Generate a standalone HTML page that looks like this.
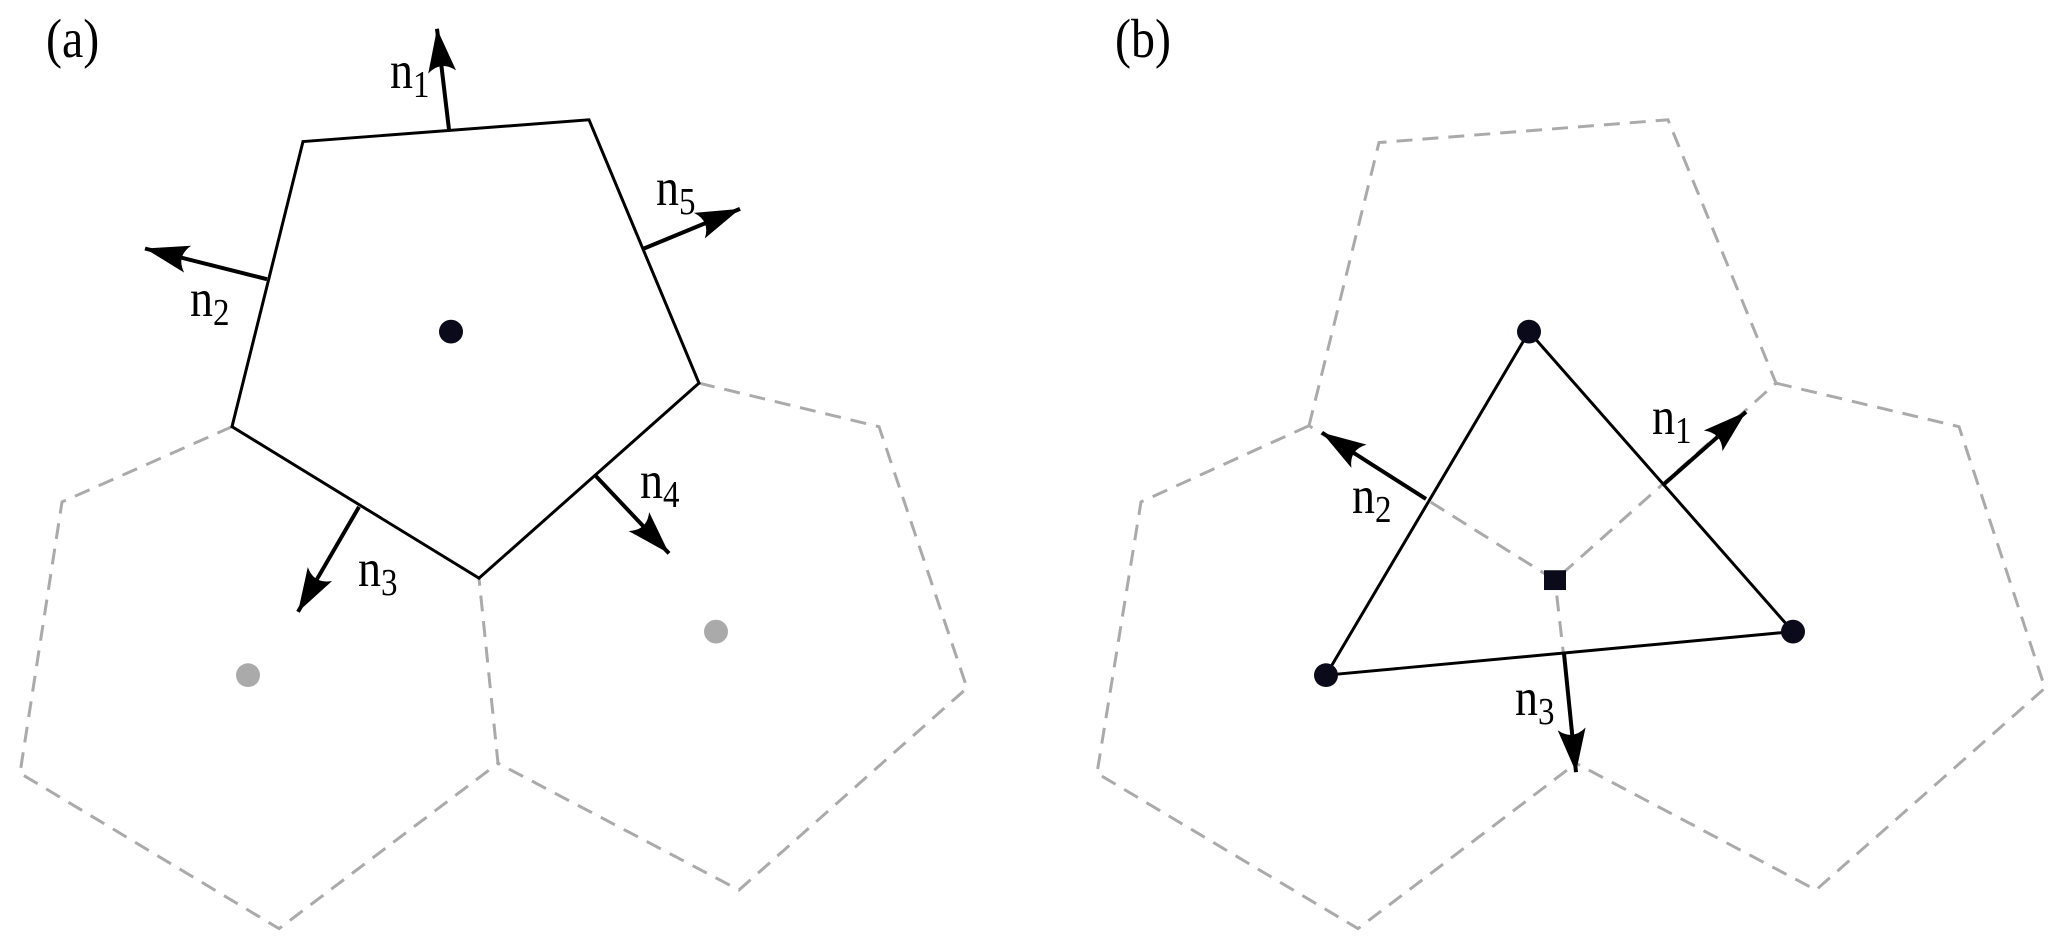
<!DOCTYPE html>
<html><head><meta charset="utf-8"><style>
html,body{margin:0;padding:0;background:#fff;overflow:hidden;}
svg{display:block;}
text{font-family:"Liberation Serif",serif;fill:#000;}
.lb{font-size:46px;}
.sb{font-size:33px;}
</style></head><body>
<svg width="2067" height="951" viewBox="0 0 2067 951" xmlns="http://www.w3.org/2000/svg">
<defs>
<marker id="ah" markerUnits="userSpaceOnUse" markerWidth="60" markerHeight="40" viewBox="-50 -20 60 40" refX="0" refY="0" orient="auto">
<path d="M0,0 L-44,-14 Q-32,0 -44,14 Z" fill="#000"/>
</marker>
</defs>
<g transform="scale(1,0.99)">
<g fill="none" stroke="#aaa" stroke-width="3" stroke-dasharray="16,10">
<polyline points="232,431 62,507 20,781 279,938 498,771 479,584"/>
<polyline points="699,387 879,431 967,695 739,899 498,771"/>
<polyline points="1309,430 1379,144 1668,121 1776,387 1555,586 1309,430"/>
<polyline points="1309,430 1141,507 1097,781 1358,938 1576,771 1555,586"/>
<polyline points="1776,387 1959,431 2045,695 1816,899 1576,771"/>
</g>
<polygon points="303,143 589,121 699,387 479,584 232,431" fill="none" stroke="#000" stroke-width="3"/>
<circle cx="451" cy="335" r="12" fill="#0a0a1a"/>
<circle cx="248" cy="682" r="12" fill="#aaa"/>
<circle cx="716" cy="638" r="12" fill="#aaa"/>
<g stroke="#000" stroke-width="4" marker-end="url(#ah)">
<line x1="449" y1="131" x2="437" y2="29"/>
<line x1="267" y1="282" x2="145" y2="251"/>
<line x1="644" y1="251" x2="740" y2="211"/>
<line x1="596" y1="481" x2="669" y2="559"/>
<line x1="359" y1="512" x2="298" y2="618"/>
<line x1="1664" y1="489" x2="1746" y2="416"/>
<line x1="1426" y1="504" x2="1322" y2="437"/>
<line x1="1564" y1="660" x2="1576" y2="780"/>
</g>
<polygon points="1529,335 1793,638 1326,682" fill="none" stroke="#000" stroke-width="3"/>
<circle cx="1529" cy="335" r="12" fill="#0a0a1a"/>
<circle cx="1793" cy="638" r="12" fill="#0a0a1a"/>
<circle cx="1326" cy="682" r="12" fill="#0a0a1a"/>
<rect x="1544" y="576" width="22" height="20" fill="#0a0a1a"/>
</g>
<text transform="translate(46,57) scale(1,1.15)" style="font-size:48px">(a)</text>
<text transform="translate(1115,57) scale(1,1.15)" style="font-size:48px">(b)</text>
<text class="lb" transform="translate(390,88) scale(1,1.15)">n<tspan class="sb" dy="8">1</tspan></text>
<text class="lb" transform="translate(190,316) scale(1,1.15)">n<tspan class="sb" dy="8">2</tspan></text>
<text class="lb" transform="translate(656,205) scale(1,1.15)">n<tspan class="sb" dy="8">5</tspan></text>
<text class="lb" transform="translate(640,498) scale(1,1.15)">n<tspan class="sb" dy="8">4</tspan></text>
<text class="lb" transform="translate(358,586) scale(1,1.15)">n<tspan class="sb" dy="8">3</tspan></text>
<text class="lb" transform="translate(1652,434) scale(1,1.15)">n<tspan class="sb" dy="8">1</tspan></text>
<text class="lb" transform="translate(1352,513) scale(1,1.15)">n<tspan class="sb" dy="8">2</tspan></text>
<text class="lb" transform="translate(1515,715) scale(1,1.15)">n<tspan class="sb" dy="8">3</tspan></text>
</svg>
</body></html>
